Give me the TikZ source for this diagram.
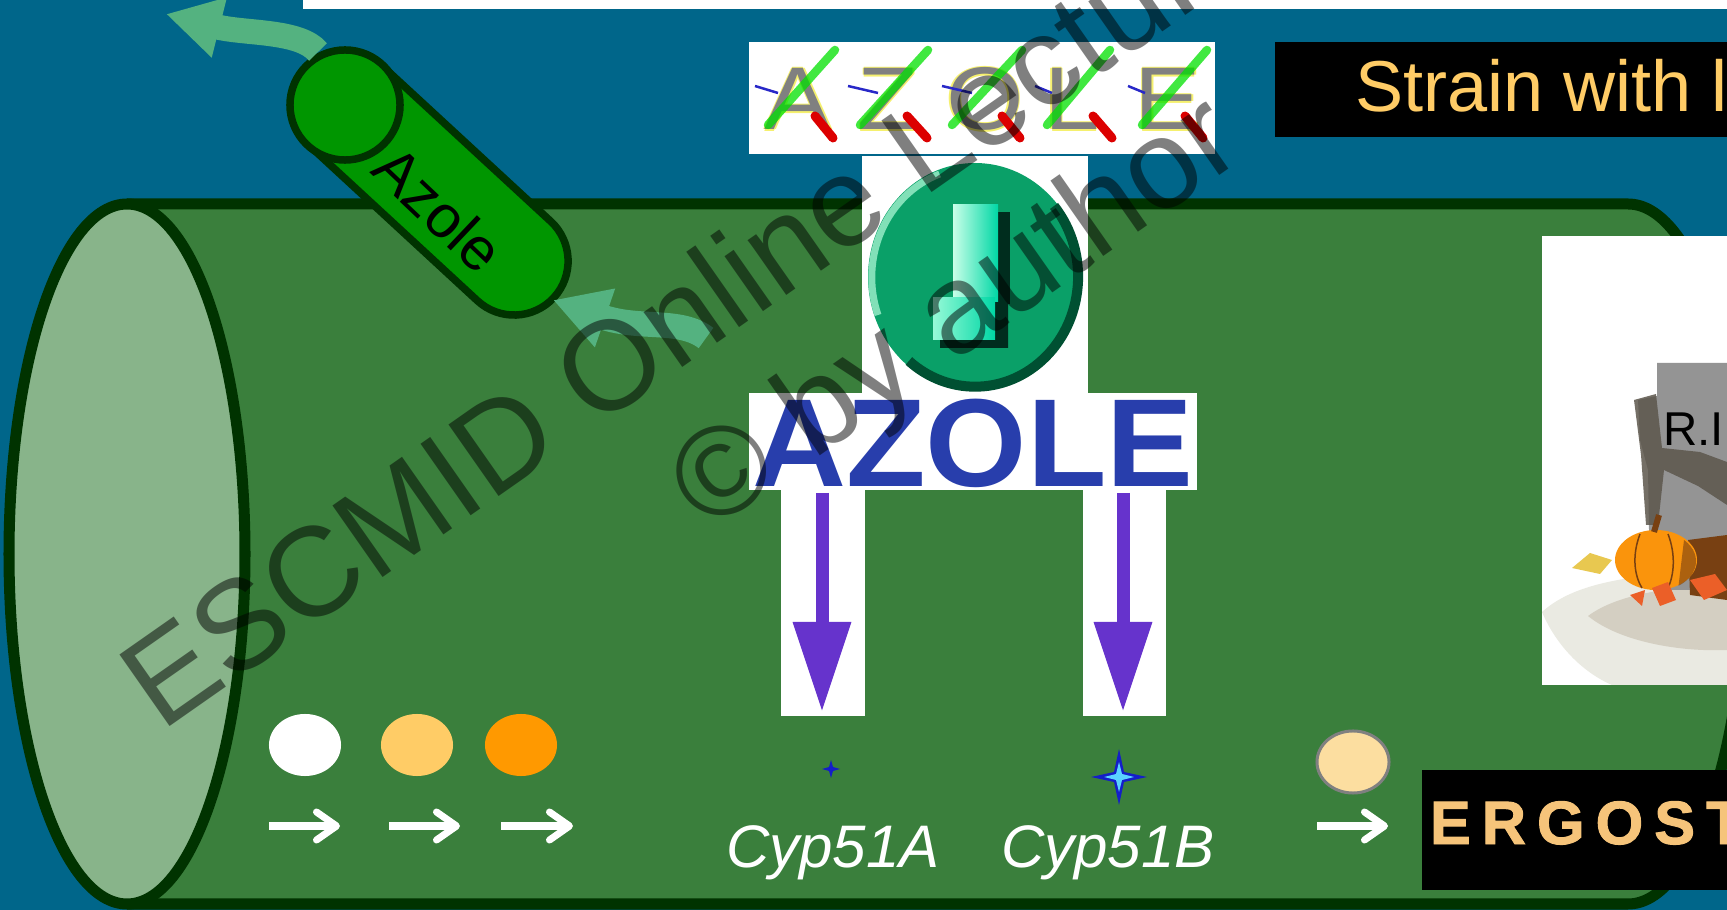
\documentclass[tikz,border=0pt]{standalone}
\usepackage{fontspec}
\setmainfont{Liberation Sans}
\newfontfamily\ergofont[LetterSpace=18,FakeBold=1.6]{Liberation Sans Bold}
\usetikzlibrary{arrows.meta,shapes.geometric,calc}

\definecolor{slideblue}{RGB}{0,102,138}
\definecolor{cellgreen}{RGB}{58,127,60}
\definecolor{celledge}{RGB}{0,51,0}
\definecolor{cellface}{RGB}{136,180,138}
\definecolor{drug}{RGB}{0,150,0}
\definecolor{flow}{RGB}{84,178,128}
\definecolor{gold}{RGB}{255,204,102}
\definecolor{amber}{RGB}{255,153,0}
\definecolor{violet}{RGB}{102,51,204}
\definecolor{azblue}{RGB}{40,62,172}
\definecolor{ergo}{RGB}{246,196,122}
\definecolor{clipgrey}{RGB}{128,128,128}
\definecolor{cliphalo}{RGB}{245,240,110}
\definecolor{clipgreen}{RGB}{0,225,0}
\definecolor{clipred}{RGB}{220,0,0}
\definecolor{clipblue}{RGB}{40,40,200}
\definecolor{button}{RGB}{10,160,104}
\definecolor{buttondark}{RGB}{0,80,50}
\definecolor{buttonlight}{RGB}{160,240,205}
\definecolor{bangdark}{RGB}{0,45,30}
\definecolor{stone}{RGB}{148,148,148}
\definecolor{ivy}{RGB}{92,86,76}
\definecolor{pumpkin}{RGB}{250,148,12}
\definecolor{pumpkindark}{RGB}{120,64,18}
\definecolor{leaf}{RGB}{235,95,40}
\definecolor{leafyellow}{RGB}{232,200,80}
\definecolor{shadowlight}{RGB}{234,234,226}
\definecolor{shadowdark}{RGB}{212,207,194}
\definecolor{stipple}{RGB}{252,222,160}
\definecolor{starblue}{RGB}{20,30,200}
\definecolor{starglow}{RGB}{90,210,255}

\begin{document}
\begin{tikzpicture}[x=0.01cm, y=-0.01cm,
  every node/.style={inner sep=0pt, outer sep=0pt},
  edge/.style={celledge, line width=0.11cm},
  flowarrow/.style={flow, line width=0.25cm, -{Triangle[length=0.55cm, width=0.58cm]}},
  whitearrow/.style={white, line width=0.07cm,
    -{Straight Barb[length=0.2cm, width=0.28cm, line cap=round, line join=round]}},
  downarrow/.style={violet, line width=0.13cm, -{Triangle[length=0.9cm, width=0.55cm]}},
  pigment/.style={ellipse, minimum width=0.72cm, minimum height=0.62cm},
  cliptext/.style={anchor=base, font=\fontsize{25.3}{30}\selectfont, xscale=1.12},
  clipstroke/.style={line width=0.085cm, line cap=round},
  gene/.style={anchor=base, text=white, font=\itshape\fontsize{17.07}{20}\selectfont},
  watermark/.style={anchor=base west, rotate=35, text=black, text opacity=0.5,
    font=\fontsize{36.1}{42}\selectfont}]

\useasboundingbox (0,0) rectangle (1727,910);
\clip (0,0) rectangle (1727,910);

% slide background and top rule
\fill[slideblue] (0,0) rectangle (1727,910);
\fill[white] (303,0) rectangle (1727,9);

% the cell drawn as a cylinder
\fill[cellgreen] (127,204) -- (1628,204)
  arc[start angle=-90, end angle=90, x radius=118, y radius=350] -- (127,904) -- cycle;
\draw[edge] (127,204) -- (1628,204)
  arc[start angle=-90, end angle=90, x radius=118, y radius=350] -- (127,904);
\draw[edge, fill=cellface] (127,554) ellipse[x radius=118, y radius=350];

% azole capsule crossing the membrane
\node[draw=celledge, fill=drug, line width=0.075cm, minimum width=3.38cm,
  minimum height=1.08cm, rounded corners=0.54cm, rotate=-42.7] (capsule) at (429.5,183) {};
\node[draw=celledge, fill=drug, line width=0.075cm, circle, minimum size=1.1cm] (capsuleend) at (345,105) {};
\node[rotate=-43.5, font=\fontsize{17.07}{20}\selectfont] (capsulelabel) at (439,209) {Azole};

% efflux and influx arrows
\coordinate (effluxstart) at (318,52);
\coordinate (effluxtip) at (166,14);
\draw[flowarrow] (effluxstart) .. controls (300,30) and (245,34) .. (effluxtip);
\coordinate (influxstart) at (706,338);
\coordinate (influxtip) at (553,300);
\draw[flowarrow] (influxstart) .. controls (680,318) and (640,330) .. (influxtip);

% striped AZOLE artwork
\fill[white] (749,42) rectangle (1215,154);
\foreach \ch/\cx [count=\k] in {A/798,Z/888,O/985,L/1072,E/1168} {
  \foreach \dx/\dy [count=\j] in {-1.5/0,1.5/0,0/-1.5,0/1.5} {
    \node[cliptext, text=cliphalo] (halo\k\j) at (\cx+\dx,130+\dy) {\ch};
  }
  \node[cliptext, text=clipgrey] (clip\k) at (\cx,130) {\ch};
}
\foreach \xa/\xb in {768/835,860/928,952/1022,1047/1110,1142/1207}
  \draw[clipstroke, clipgreen, opacity=0.75] (\xa,125) -- (\xb,50);
\foreach \xa/\xb in {815/833,907/927,1002/1020,1093/1112,1185/1203}
  \draw[clipstroke, clipred, line width=0.09cm] (\xa,116) -- (\xb,138);
\foreach \xa/\xb in {755/778,848/878,942/972,1035/1052,1128/1145}
  \draw[clipblue, line width=0.025cm] (\xa,86) -- (\xb,93);

% warning button
\fill[white] (862,156) rectangle (1088,394);
\fill[button] (975,277) ellipse[x radius=107, y radius=114];
\draw[buttondark, line width=0.1cm] (1054,206)
  arc[start angle=-40, end angle=130, x radius=103, y radius=110];
\draw[buttonlight, line width=0.07cm, opacity=0.8] (878,315)
  arc[start angle=160, end angle=250, x radius=103, y radius=110];
\fill[bangdark] (998,212) rectangle (1010,304);
\fill[bangdark] (995,300) -- (1008,300) -- (1008,348) -- (940,348) -- (940,338) -- (995,338) -- cycle;
\shade[left color={rgb,255:red,200;green,255;blue,232}, right color={rgb,255:red,0;green,215;blue,165}]
  (953,205) rectangle (998,302);
\shade[left color={rgb,255:red,150;green,250;blue,215}, right color={rgb,255:red,0;green,215;blue,165}]
  (933,298) rectangle (995,340);

% AZOLE title
\fill[white] (749,393) rectangle (1197,490);
\node[anchor=base, text=azblue, xscale=1.04, font=\bfseries\fontsize{35.6}{40}\selectfont] (azoletitle) at (973,487) {AZOLE};

% inhibition arrows onto the two targets
\fill[white] (781,490) rectangle (865,716);
\fill[white] (1083,490) rectangle (1166,716);
\coordinate (inhibAtop) at (822,493);
\coordinate (inhibAtip) at (822,712);
\coordinate (inhibBtop) at (1123,493);
\coordinate (inhibBtip) at (1123,712);
\draw[downarrow] (inhibAtop) -- (inhibAtip);
\draw[downarrow] (inhibBtop) -- (inhibBtip);

% enzyme sparkles
\fill[starblue] (831,760) -- (833,767) -- (840,769) -- (833,771) -- (831,778)
  -- (829,771) -- (822,769) -- (829,767) -- cycle;
\fill[starblue] (1119,749) -- (1124,772) -- (1147,777) -- (1124,782) -- (1119,805)
  -- (1114,782) -- (1091,777) -- (1114,772) -- cycle;
\fill[starglow] (1119,762) -- (1122,774) -- (1134,777) -- (1122,780) -- (1119,792)
  -- (1116,780) -- (1104,777) -- (1116,774) -- cycle;

% pathway intermediates
\node[pigment, fill=white] (sterolA) at (305,745) {};
\node[pigment, fill=gold] (sterolB) at (417,745) {};
\node[pigment, fill=amber] (sterolC) at (521,745) {};
\node[pigment, fill=stipple, draw=clipgrey, line width=0.03cm] (sterolD) at (1353,762) {};

\coordinate (stepAin) at (269,826);  \coordinate (stepAout) at (340,826);
\coordinate (stepBin) at (389,826);  \coordinate (stepBout) at (460,826);
\coordinate (stepCin) at (501,826);  \coordinate (stepCout) at (573,826);
\coordinate (stepDin) at (1317,826); \coordinate (stepDout) at (1388,826);
\draw[whitearrow] (stepAin) -- (stepAout);
\draw[whitearrow] (stepBin) -- (stepBout);
\draw[whitearrow] (stepCin) -- (stepCout);
\draw[whitearrow] (stepDin) -- (stepDout);

\node[gene] (cypA) at (833,867) {Cyp51A};
\node[gene] (cypB) at (1108,867) {Cyp51B};

% end product
\fill[black] (1422,770) rectangle (1727,890);
\node[anchor=base west, text=ergo, font=\ergofont\fontsize{17.4}{20}\selectfont] (ergotext) at (1430,844) {ERGOST};

% title box
\fill[black] (1275,42) rectangle (1727,137);
\node[anchor=base west, text=gold, font=\fontsize{20.5}{24}\selectfont] (straintext) at (1355,112) {Strain with l};

% gravestone picture
\fill[white] (1542,236) rectangle (1727,685);
\fill[shadowlight] (1542,612) .. controls (1572,585) and (1622,574) .. (1727,570)
  -- (1727,685) -- (1612,685) .. controls (1582,672) and (1556,645) .. cycle;
\fill[shadowdark] (1588,616) .. controls (1620,592) and (1680,586) .. (1727,586)
  -- (1727,650) .. controls (1680,652) and (1620,642) .. cycle;
\fill[stone] (1657,363) -- (1727,363) -- (1727,590) -- (1650,590) -- (1648,470)
  -- (1640,440) -- (1638,400) -- (1657,396) -- cycle;
\fill[ivy, opacity=0.85] (1634,400) -- (1656,394) -- (1662,448) -- (1700,452) -- (1727,462)
  -- (1727,505) -- (1698,486) -- (1664,470) -- (1658,525) -- (1646,525) -- (1641,455) -- cycle;
\node[anchor=base west, font=\fontsize{13.5}{15}\selectfont] (epitaph) at (1663,446) {R.I};
\fill[leafyellow] (1572,568) -- (1590,553) -- (1612,560) -- (1600,574) -- cycle;
\fill[pumpkindark] (1688,540) -- (1727,535) -- (1727,600) -- (1690,595) -- cycle;
\fill[pumpkin] (1656,560) ellipse[x radius=41, y radius=30];
\fill[pumpkindark, opacity=0.6] (1684,540) arc[start angle=-45, end angle=55, x radius=41, y radius=30]
  -- cycle;
\draw[pumpkindark, line width=0.015cm] (1640,534) .. controls (1632,555) and (1634,575) .. (1642,588);
\draw[pumpkindark, line width=0.015cm] (1668,534) .. controls (1676,555) and (1674,575) .. (1668,588);
\draw[pumpkindark, line width=0.06cm] (1654,532) -- (1659,515);
\fill[leaf] (1652,588) -- (1668,582) -- (1676,600) -- (1660,606) -- cycle;
\fill[leaf] (1690,580) -- (1715,574) -- (1727,590) -- (1704,600) -- cycle;
\fill[leaf] (1630,595) -- (1645,590) -- (1642,606) -- cycle;

% watermark
\node[watermark] (wmline) at (161,733) {ESCMID Online Lecture Library};
\node[watermark] (wmcredit) at (708,534) {© by author};

\end{tikzpicture}
\end{document}
